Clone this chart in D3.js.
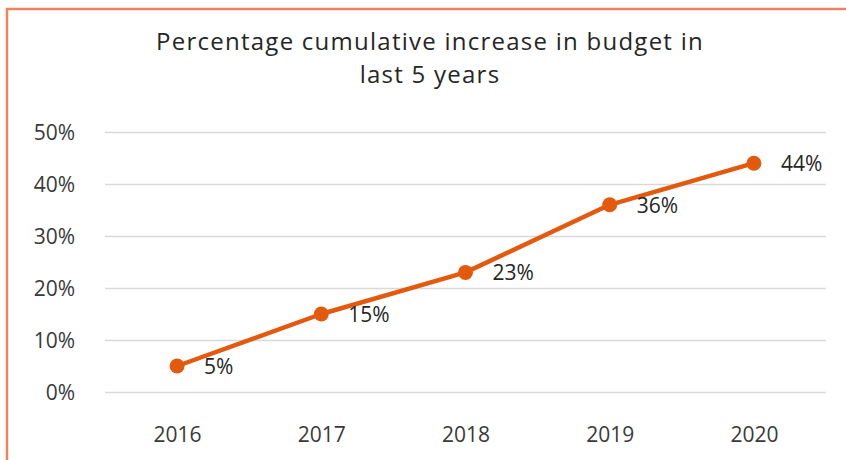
<!DOCTYPE html>
<html><head><meta charset="utf-8">
<script src="https://cdn.jsdelivr.net/npm/d3@7"></script>
<style>html,body{margin:0;padding:0;background:#fff;}svg{display:block;}</style>
</head><body>
<svg id="chart" width="846" height="460"></svg>
<script>
const titleLines = ["Percentage cumulative increase in budget in", "last 5 years"];
const years = ["2016", "2017", "2018", "2019", "2020"];
const values = [0.05, 0.15, 0.23, 0.36, 0.44];
const yTicks = [0, 0.1, 0.2, 0.3, 0.4, 0.5];

const svg = d3.select("#chart");
const W = 846, H = 460;
const m = {left: 105, right: 20, top: 132, bottom: 68};
const font = "'Open Sans', sans-serif";

// border (frame)
svg.append("path")
  .attr("d", `M7,${H} L7,9 L${W},9`)
  .attr("fill", "none").attr("stroke", "#F0825E").attr("stroke-width", 2.5);

const x = d3.scalePoint().domain(years).range([m.left, W - m.right]).padding(0.5);
const y = d3.scaleLinear().domain([0, 0.5]).range([H - m.bottom, m.top]);

// title
svg.append("g").selectAll("text").data(titleLines).join("text")
  .attr("x", 430).attr("y", (d, i) => 50 + i * 33)
  .attr("text-anchor", "middle")
  .attr("font-family", font).attr("font-size", 24).attr("letter-spacing", 1.25)
  .attr("fill", "#262626")
  .text(d => d);

// gridlines
const grid = svg.append("g").attr("transform", `translate(${m.left},0)`)
  .call(d3.axisLeft(y).tickValues(yTicks).tickSize(-(W - m.right - m.left)).tickFormat(""));
grid.select(".domain").remove();
grid.selectAll("line").attr("stroke", "#d9d9d9").attr("stroke-width", 1.3);

// y axis labels
const ya = svg.append("g").attr("transform", `translate(${m.left - 27},0)`)
  .call(d3.axisLeft(y).tickValues(yTicks).tickSize(0).tickFormat(d3.format(".0%")));
ya.select(".domain").remove();
ya.selectAll("text").attr("font-family", font).attr("font-size", 21).attr("fill", "#3a3a3a").attr("dy", "0.36em");

// x axis labels
const xa = svg.append("g").attr("transform", `translate(0,${H - m.bottom})`)
  .call(d3.axisBottom(x).tickSize(0));
xa.select(".domain").remove();
xa.selectAll("text").attr("font-family", font).attr("font-size", 21).attr("fill", "#3a3a3a")
  .attr("y", 0).attr("dy", "2.4em");

const data = years.map((yr, i) => ({yr, v: values[i]}));

svg.append("path").datum(data)
  .attr("fill", "none").attr("stroke", "#E35A0F").attr("stroke-width", 4.5)
  .attr("stroke-linejoin", "round")
  .attr("d", d3.line().x(d => x(d.yr)).y(d => y(d.v)));

svg.append("g").selectAll("circle").data(data).join("circle")
  .attr("cx", d => x(d.yr)).attr("cy", d => y(d.v)).attr("r", 7.5)
  .attr("fill", "#E35A0F");

svg.append("g").selectAll("text").data(data).join("text")
  .attr("x", d => x(d.yr) + 27).attr("y", d => y(d.v)).attr("dy", "0.38em")
  .attr("font-family", font).attr("font-size", 21).attr("fill", "#262626")
  .text(d => d3.format(".0%")(d.v));
</script>
</body></html>
